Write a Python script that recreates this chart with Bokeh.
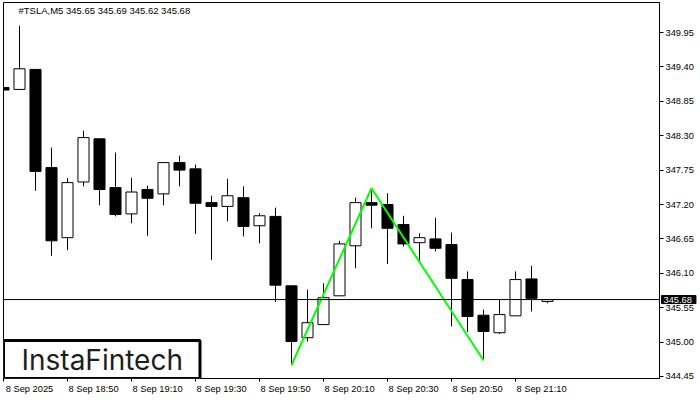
from bokeh.plotting import figure
from bokeh.models import (ColumnDataSource, FixedTicker, Span, Label, Range1d,
                          CustomJSTickFormatter, PrintfTickFormatter)
from bokeh.embed import file_html
from bokeh.resources import INLINE

symbol = "#TSLA,M5"

open_ = [349.07, 349.04, 349.36, 347.79, 346.67, 347.56, 348.25, 347.47, 347.05, 347.44,
         347.37, 347.87, 347.77, 347.23, 347.17, 347.31, 346.86, 347.01, 345.90, 345.07,
         345.28, 345.74, 346.54, 347.23, 347.20, 346.88, 346.59, 346.65, 346.56, 346.00,
         345.43, 345.15, 345.42, 346.01, 345.65]
high = [349.45, 350.06, 349.36, 348.11, 347.62, 348.38, 348.25, 348.03, 347.63, 347.50,
        347.87, 347.98, 347.84, 347.34, 347.61, 347.49, 347.06, 347.15, 345.90, 345.84,
        345.94, 346.62, 347.31, 347.46, 347.38, 347.02, 346.74, 346.99, 346.75, 346.13,
        345.52, 345.69, 346.13, 346.22, 345.69]
low = [348.62, 349.04, 347.42, 346.38, 346.47, 347.49, 347.19, 347.01, 346.90, 346.70,
       347.19, 347.49, 346.73, 346.31, 346.93, 346.69, 346.58, 345.64, 344.63, 345.01,
       345.28, 345.74, 346.18, 346.82, 346.25, 346.53, 346.30, 346.45, 345.25, 345.16,
       344.71, 345.13, 345.42, 345.49, 345.62]
close = [349.03, 349.37, 347.73, 346.62, 347.55, 348.27, 347.44, 347.04, 347.40, 347.30,
         347.87, 347.75, 347.22, 347.17, 347.34, 346.85, 347.02, 345.91, 345.01, 345.31,
         345.71, 346.57, 347.23, 347.19, 346.82, 346.57, 346.67, 346.50, 346.02, 345.41,
         345.17, 345.44, 346.00, 345.70, 345.68]

x_tick_pos = [0, 4, 8, 12, 16, 20, 24, 28, 32]
x_tick_labels = ["8 Sep 2025", "8 Sep 18:50", "8 Sep 19:10", "8 Sep 19:30", "8 Sep 19:50",
                 "8 Sep 20:10", "8 Sep 20:30", "8 Sep 20:50", "8 Sep 21:10"]
y_ticks = [344.45, 345.00, 345.55, 346.10, 346.65, 347.20, 347.75, 348.30, 348.85, 349.40, 349.95]

# double-bottom pattern: bottom 1, peak, bottom 2 (bar indices)
pattern_idx = [18, 23, 30]

n = len(close)
idx = list(range(n))
src = ColumnDataSource(dict(
    x=idx,
    top=[max(o, c) for o, c in zip(open_, close)],
    bottom=[min(o, c) for o, c in zip(open_, close)],
    high=high, low=low,
    fill=["white" if c >= o else "black" for o, c in zip(open_, close)],
))

FW, FH = 656, 376
x_end = 41
p = figure(frame_width=FW, frame_height=FH,
           x_range=Range1d(0, x_end), y_range=Range1d(344.418, 350.43),
           y_axis_location="right", output_backend="svg", toolbar_location=None,
           min_border_left=3, min_border_top=2, min_border_right=0, min_border_bottom=0,
           background_fill_color="white", border_fill_color="white")
p.grid.visible = False
p.outline_line_color = "black"
p.outline_line_width = 1
p.outline_line_alpha = 1

# axes
shift = 1.625
xa = p.xaxis[0]
xa.ticker = FixedTicker(ticks=[t + shift for t in x_tick_pos], minor_ticks=x_tick_pos)
xa.formatter = CustomJSTickFormatter(
    args=dict(pos=x_tick_pos, labels=x_tick_labels, shift=shift),
    code="const k = pos.indexOf(Math.round(tick - shift)); return k >= 0 ? labels[k] : '';")
xa.major_tick_out = 0
xa.major_tick_in = 0
xa.minor_tick_out = 3
xa.minor_tick_in = 0
xa.minor_tick_line_color = "black"
xa.major_label_standoff = 2
xa.major_label_text_font = "Liberation Sans"
xa.major_label_text_font_size = "9.3px"
xa.major_label_text_color = "black"
xa.axis_line_color = "black"

ya = p.yaxis[0]
ya.ticker = FixedTicker(ticks=y_ticks, minor_ticks=[])
ya.formatter = PrintfTickFormatter(format="%.2f")
ya.major_tick_out = 4
ya.major_tick_in = 0
ya.major_tick_line_color = "black"
ya.major_label_standoff = 2
ya.major_label_text_font = "Liberation Sans"
ya.major_label_text_font_size = "9.3px"
ya.major_label_text_color = "black"
ya.axis_line_color = "black"

# current price line
p.add_layout(Span(location=close[-1], dimension="width", line_color="black", line_width=1))

# candles
p.segment(x0="x", y0="low", x1="x", y1="high", source=src, line_color="black", line_width=1)
p.vbar(x="x", top="top", bottom="bottom", width=0.69, source=src,
       fill_color="fill", line_color="black", line_width=1)

# pattern line
py = [low[pattern_idx[0]], high[pattern_idx[1]], low[pattern_idx[2]]]
p.line(x=pattern_idx, y=py, line_color="#00ff00", line_width=2)

# header text
p.add_layout(Label(x=15, y=FH - 2, x_units="screen", y_units="screen",
                   text=f"{symbol}  {open_[-1]:.2f} {high[-1]:.2f} {low[-1]:.2f} {close[-1]:.2f}",
                   text_font="Liberation Sans", text_font_size="9.5px", text_color="black",
                   text_baseline="top", text_align="left"))

# price tag on the axis (placed in the right side panel so it is not clipped by the frame)
p.add_layout(Label(x=x_end, y=close[-1], x_units="data", y_units="data", x_offset=2,
                   text=f"{close[-1]:.2f}", text_font="Liberation Sans", text_font_size="9.3px",
                   text_color="white", text_baseline="middle", text_align="left",
                   text_line_height=1.0,
                   background_fill_color="black", border_line_color="black", border_line_width=1,
                   padding=dict(left=2, right=4, top=1, bottom=1)), "right")

# logo
p.add_layout(Label(x=0, y=0, x_units="screen", y_units="screen", text="InstaFintech",
                   text_font="Inter", text_font_size="28px", text_color="#1e1e1e",
                   text_baseline="bottom", text_align="left",
                   background_fill_color="white", border_line_color="black", border_line_width=3,
                   padding=dict(left=18, right=17, top=2, bottom=2)))

open("out.html", "w").write(file_html(p, INLINE))
